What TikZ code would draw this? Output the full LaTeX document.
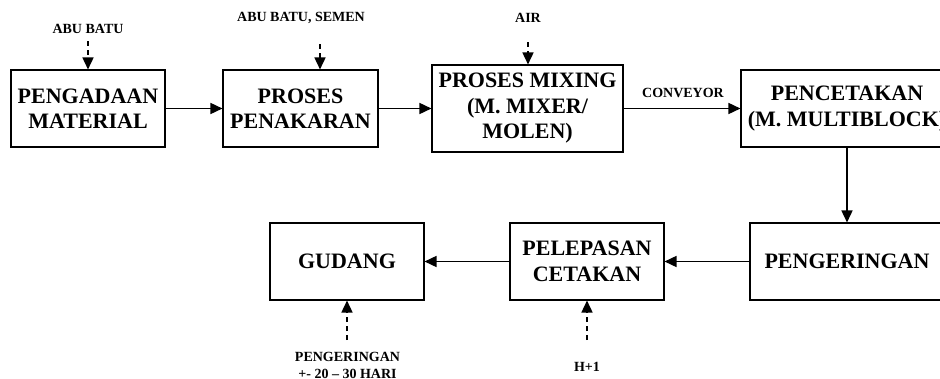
\documentclass[tikz,border=0pt]{standalone}
\usepackage{fontspec}
\setmainfont{Liberation Serif}
\usetikzlibrary{arrows.meta}
\begin{document}
\begin{tikzpicture}[x=1pt,y=-1pt,
  box/.style={draw,line width=1.1pt,inner sep=0pt,align=center,
    font=\bfseries\fontsize{22}{25.5}\selectfont},
  lbl/.style={inner sep=0pt,align=center,font=\bfseries\fontsize{14}{17}\selectfont},
  flow/.style={line width=1.6pt,-{Triangle[length=12pt,width=11pt]}},
  dflow/.style={line width=1.6pt,dash pattern=on 5pt off 4pt,-{Triangle[length=12pt,width=11pt]}}]
\useasboundingbox (0,0) rectangle (940,378);
\node[box,minimum width=154pt,minimum height=77pt] (b1) at (88,108.5) {PENGADAAN\\MATERIAL};
\node[box,minimum width=155pt,minimum height=77pt] (b2) at (300.5,108.5) {PROSES\\PENAKARAN};
\node[box,minimum width=191pt,minimum height=87pt] (b3) at (527.5,108.5) {PROSES MIXING\\(M. MIXER/\\MOLEN)};
\node[box,minimum width=212pt,minimum height=77pt] (b4) at (847,108.5) {PENCETAKAN\\(M. MULTIBLOCK)};
\node[box,minimum width=194pt,minimum height=77pt] (b5) at (847,261.5) {PENGERINGAN};
\node[box,minimum width=154pt,minimum height=77pt] (b6) at (587,261.5) {PELEPASAN\\CETAKAN};
\node[box,minimum width=154pt,minimum height=77pt] (b7) at (347,261.5) {GUDANG};
% flow arrows
\draw[flow] (b1) -- (b2);
\draw[flow] (b2) -- (b3);
\draw[flow] (b3.east) -- (b4.west |- b3.east);
\draw[flow] (b4) -- (b5);
\draw[flow] (b5) -- (b6);
\draw[flow] (b6) -- (b7);
% labels
\node[lbl] (l1) at (88,29) {ABU BATU};
\node[lbl] (l2) at (301,18) {ABU BATU, SEMEN};
\node[lbl] (l3) at (528,17.5) {AIR};
\node[lbl] (lc) at (683,93) {CONVEYOR};
\node[lbl,anchor=north] (l7) at (347.5,352) {PENGERINGAN\\+- 20 – 30 HARI};
\node[lbl] (l6) at (587,366.5) {H+1};
% dashed inputs
\coordinate (s1) at (88,41);
\coordinate (s2) at (320,44);
\coordinate (s3) at (528,42);
\coordinate (s7) at (347,340);
\coordinate (s6) at (587,340);
\draw[dflow] (s1) -- (s1 |- b1.north);
\draw[dflow] (s2) -- (s2 |- b2.north);
\draw[dflow] (s3) -- (s3 |- b3.north);
\draw[dflow] (s7) -- (s7 |- b7.south);
\draw[dflow] (s6) -- (s6 |- b6.south);
\end{tikzpicture}
\end{document}
